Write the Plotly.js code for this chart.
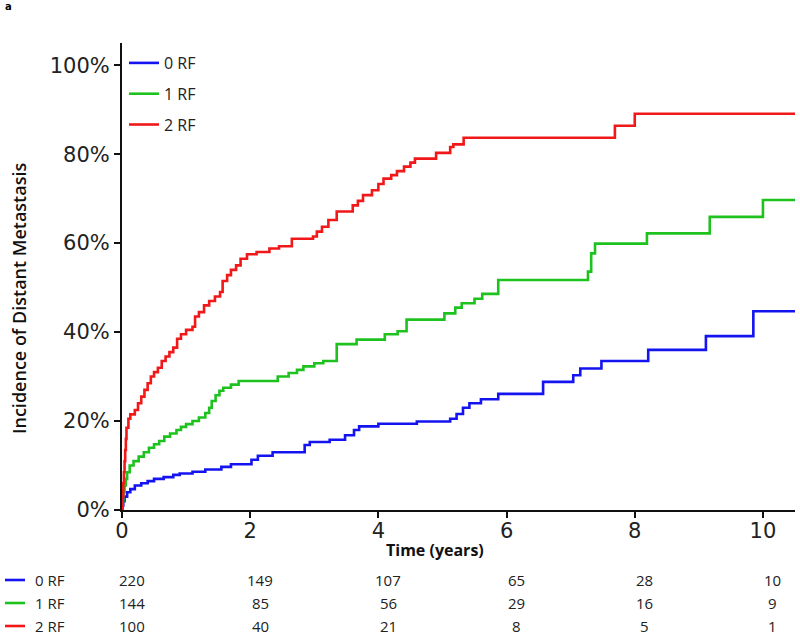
<!DOCTYPE html>
<html>
<head>
<meta charset="utf-8">
<script src="https://cdn.plot.ly/plotly-3.0.1.min.js"></script>
<style>html,body{margin:0;padding:0;background:#fff;}#chart{width:800px;height:643px;}</style>
</head>
<body>
<div id="chart"></div>
<script>
// ---- data ----
const seriesNames = ["0 RF", "1 RF", "2 RF"];
const seriesColors = ["#1414f0", "#1ec21e", "#f01818"];

const rf0_t = [0, 0.01, 0.02, 0.04, 0.08, 0.13, 0.2, 0.3, 0.4, 0.5, 0.65, 0.8, 0.9, 1.1, 1.3, 1.55, 1.7, 2.02, 2.12, 2.35, 2.85, 2.93, 3.24, 3.48, 3.62, 3.7, 4.0, 4.6, 5.12, 5.22, 5.32, 5.42, 5.6, 5.87, 6.57, 7.04, 7.15, 7.48, 8.21, 9.11, 9.85, 10.5];
const rf0_v = [0, 1, 2, 3, 4, 4.7, 5.5, 6, 6.5, 7, 7.4, 7.9, 8.2, 8.6, 9.1, 9.7, 10.3, 11.3, 12.2, 13, 14.6, 15.3, 15.8, 16.8, 18, 18.8, 19.4, 19.9, 20.5, 21.6, 23, 24, 24.9, 26.1, 28.8, 30.3, 31.8, 33.5, 36, 39.1, 44.7, 44.7];

const rf1_t = [0, 0.01, 0.02, 0.04, 0.06, 0.08, 0.12, 0.18, 0.26, 0.34, 0.42, 0.5, 0.58, 0.66, 0.75, 0.85, 0.92, 1.0, 1.1, 1.2, 1.3, 1.36, 1.4, 1.46, 1.52, 1.58, 1.7, 1.82, 2.43, 2.6, 2.73, 2.83, 3.0, 3.14, 3.35, 3.66, 4.1, 4.3, 4.44, 5.03, 5.2, 5.3, 5.5, 5.62, 5.87, 7.27, 7.32, 7.38, 8.19, 9.17, 10.0, 10.5];
const rf1_v = [0, 2, 4, 5.5, 7, 8.5, 10, 11, 12, 13, 14, 14.8, 15.5, 16.5, 17.2, 18, 18.7, 19.3, 20, 20.8, 21.8, 23, 24.5, 25.8, 26.8, 27.5, 28.2, 29.0, 30.0, 30.8, 31.5, 32.3, 33, 33.5, 37.3, 38.3, 39.5, 40.2, 42.8, 44.2, 45.5, 46.5, 47.5, 48.6, 51.7, 53.6, 57.7, 59.9, 62.2, 65.9, 69.7, 69.7];

const rf2_t = [0, 0.01, 0.02, 0.03, 0.04, 0.05, 0.06, 0.07, 0.1, 0.13, 0.2, 0.25, 0.3, 0.35, 0.4, 0.45, 0.5, 0.56, 0.62, 0.68, 0.74, 0.8, 0.86, 0.92, 1.0, 1.1, 1.14, 1.2, 1.28, 1.36, 1.45, 1.53, 1.57, 1.64, 1.7, 1.78, 1.85, 1.95, 2.1, 2.3, 2.45, 2.65, 2.98, 3.04, 3.12, 3.22, 3.35, 3.6, 3.68, 3.76, 3.9, 4.0, 4.08, 4.2, 4.29, 4.4, 4.5, 4.57, 4.9, 5.12, 5.17, 5.33, 7.69, 8.0, 10.5];
const rf2_v = [0, 3, 6, 8.5, 11, 13.5, 16, 18.5, 20.5, 21.5, 22.5, 24, 25.5, 27, 28.5, 30, 31, 32, 33.5, 34.5, 35.5, 36.5, 38.5, 39.5, 40.5, 41.2, 43.5, 44.5, 46, 47, 48, 49, 51.5, 52.8, 54, 55, 56.5, 57.5, 58, 58.8, 59.3, 61, 61.5, 62.6, 63.7, 65.2, 67.1, 68.5, 69.5, 70.8, 71.9, 73.3, 74.5, 75.3, 76.2, 77.2, 78.1, 79, 80.3, 81.6, 82.2, 83.7, 86.4, 89.1, 89.1];

const xTicks = [0, 2, 4, 6, 8, 10];
const yTicks = [0, 20, 40, 60, 80, 100];
const riskTimes = [0, 2, 4, 6, 8, 10];
const risk0 = [220, 149, 107, 65, 28, 10];
const risk1 = [144, 85, 56, 29, 16, 9];
const risk2 = [100, 40, 21, 8, 5, 1];

// ---- build ----
const allT = [rf0_t, rf1_t, rf2_t];
const allV = [rf0_v, rf1_v, rf2_v];
const traces = allT.map((t, i) => ({
  x: t, y: allV[i], type: 'scatter', mode: 'lines',
  line: {shape: 'hv', color: seriesColors[i], width: 2.6},
  name: seriesNames[i], legendgroup: 'g' + i
}));

// plot area in pixels: left 122, right 795, top 43, bottom 510
const L = 122, R = 795, T = 43, B = 510;
const W = R - L, H = B - T;
const px = v => (v - L) / W;
const py = v => (B - v) / H;

const annotations = [];
const shapes = [];
const riskRows = [risk0, risk1, risk2];
const rowY = [580, 603, 626];
riskRows.forEach((row, r) => {
  row.forEach((n, k) => {
    annotations.push({
      x: riskTimes[k], xref: 'x', xshift: 10,
      y: py(rowY[r]), yref: 'paper',
      text: String(n), showarrow: false, xanchor: 'center', yanchor: 'middle',
      font: {family: 'Open Sans', size: 15, color: '#222'}
    });
  });
  annotations.push({
    x: px(33), xref: 'paper', y: py(rowY[r]), yref: 'paper',
    text: seriesNames[r], showarrow: false, xanchor: 'left', yanchor: 'middle',
    font: {family: 'Open Sans', size: 15, color: '#222'}
  });
  shapes.push({
    type: 'line', xref: 'paper', yref: 'paper',
    x0: px(5), x1: px(25), y0: py(rowY[r]), y1: py(rowY[r]),
    line: {color: seriesColors[r], width: 2.6}
  });
});

annotations.push({
  x: px(435), xref: 'paper', y: py(550), yref: 'paper',
  text: 'Time (years)', showarrow: false, xanchor: 'center', yanchor: 'middle',
  font: {family: 'Open Sans', size: 16, color: '#111', weight: 700}
});
annotations.push({
  x: px(19), xref: 'paper', y: py(298), yref: 'paper',
  text: 'Incidence of Distant Metastasis', showarrow: false, textangle: -90,
  xanchor: 'center', yanchor: 'middle',
  font: {family: 'Open Sans', size: 18, color: '#111', weight: 600}
});
annotations.push({
  x: px(3), xref: 'paper', y: py(6), yref: 'paper',
  text: 'a', showarrow: false, xanchor: 'left', yanchor: 'middle',
  font: {family: 'DejaVu Sans', size: 10, color: '#000', weight: 700}
});

const layout = {
  width: 800, height: 643,
  margin: {l: L, r: 800 - R, t: T, b: 643 - B, pad: 0},
  paper_bgcolor: '#fff', plot_bgcolor: '#fff',
  showlegend: true,
  legend: {
    x: px(124), y: py(46), xanchor: 'left', yanchor: 'top',
    bgcolor: 'rgba(0,0,0,0)', borderwidth: 0,
    font: {family: 'Open Sans', size: 16, color: '#222'},
    traceorder: 'grouped', tracegroupgap: 7, itemwidth: 30
  },
  xaxis: {
    range: [0, 10.5], tickvals: xTicks, ticktext: xTicks.map(String),
    showgrid: false, zeroline: false, showline: true, linecolor: '#111', linewidth: 2,
    ticks: 'outside', ticklen: 6, tickwidth: 2, tickcolor: '#111', ticklabelstandoff: -5,
    tickfont: {family: 'DejaVu Sans', size: 21, color: '#222'}, fixedrange: true
  },
  yaxis: {
    range: [0, 105], tickvals: yTicks, ticktext: yTicks.map(v => v + '%'),
    showgrid: false, zeroline: false, showline: true, linecolor: '#111', linewidth: 2,
    ticks: 'outside', ticklen: 6, tickwidth: 2, tickcolor: '#111',
    tickfont: {family: 'DejaVu Sans', size: 21, color: '#222'}, fixedrange: true
  },
  annotations: annotations,
  shapes: shapes
};

Plotly.newPlot('chart', traces, layout, {displayModeBar: false, staticPlot: true});
</script>
</body>
</html>
